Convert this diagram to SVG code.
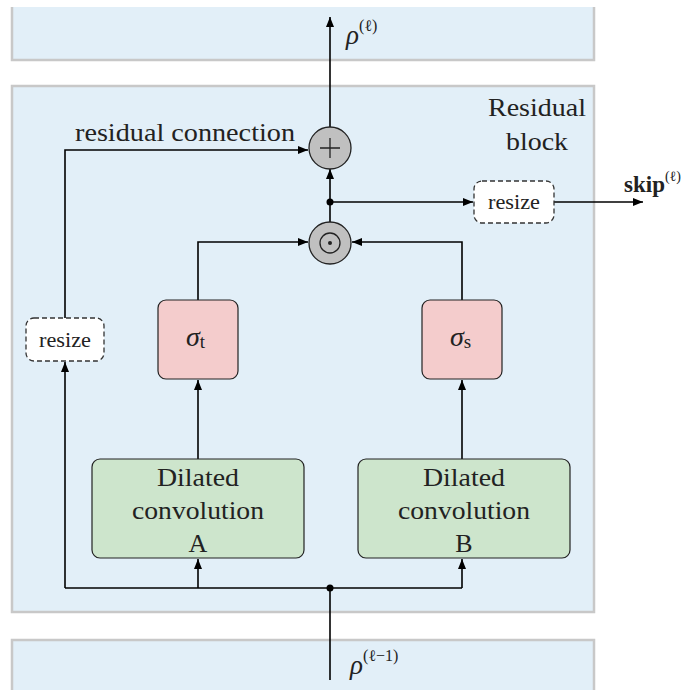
<svg xmlns="http://www.w3.org/2000/svg" width="686" height="690" viewBox="0 0 686 690">
<style>
.bg{fill:#e2eff8;stroke:#c8c8c8;stroke-width:2.5}
.ln{fill:none;stroke:#000;stroke-width:1.6}
.t{fill:#222}
.conv{fill:#cde5cc;stroke:#222;stroke-width:1.2}
.sig{fill:#f4cccc;stroke:#222;stroke-width:1.2}
.rs{fill:#fff;stroke:#333;stroke-width:1.3;stroke-dasharray:5,3}
.op{fill:#c0c0c0;stroke:#222;stroke-width:1.3}
</style>
<defs>
<marker id="ah" viewBox="0 0 10 10" refX="10" refY="5" markerWidth="10" markerHeight="10" markerUnits="userSpaceOnUse" orient="auto">
<path d="M0,1 L10,5 L0,9 Z" fill="#000"/>
</marker>
</defs>
<g font-family="'Liberation Serif', 'DejaVu Serif', serif">
<g id="layers">
<rect x="12" y="7" width="582" height="53" fill="#e2eff8"/>
<path d="M12,7 V60 H594 V7" class="bg" style="fill:none"/>
<rect class="bg" x="12" y="86" width="582" height="526"/>
<rect x="12" y="640" width="582" height="52" fill="#e2eff8"/>
<path d="M12,692 V640 H594 V692" class="bg" style="fill:none"/>
<text class="t" x="537" y="116" font-size="26" text-anchor="middle" textLength="98" lengthAdjust="spacingAndGlyphs">Residual</text>
<text class="t" x="537" y="150" font-size="26" text-anchor="middle" textLength="62" lengthAdjust="spacingAndGlyphs">block</text>
</g>
<g id="connectors">
<path class="ln" d="M330,680 V588"/>
<path class="ln" d="M65,588 H462"/>
<path class="ln" d="M198,588 V559" marker-end="url(#ah)"/>
<path class="ln" d="M462,588 V559" marker-end="url(#ah)"/>
<path class="ln" d="M65,588 V362" marker-end="url(#ah)"/>
<path class="ln" d="M65,318 V150 H308" marker-end="url(#ah)"/>
<path class="ln" d="M198,459 V380" marker-end="url(#ah)"/>
<path class="ln" d="M462,459 V380" marker-end="url(#ah)"/>
<path class="ln" d="M198,300 V242 H308" marker-end="url(#ah)"/>
<path class="ln" d="M462,300 V242 H352" marker-end="url(#ah)"/>
<path class="ln" d="M330,222 V169" marker-end="url(#ah)"/>
<path class="ln" d="M330,202 H473" marker-end="url(#ah)"/>
<path class="ln" d="M554,202 H643" marker-end="url(#ah)"/>
<path class="ln" d="M330,127 V17" marker-end="url(#ah)"/>
<circle cx="330" cy="588" r="3.5" fill="#000"/>
<circle cx="330" cy="202" r="3.5" fill="#000"/>
<text class="t" x="75" y="141" font-size="25" textLength="220" lengthAdjust="spacingAndGlyphs">residual connection</text>
</g>
<g id="plus">
<circle class="op" cx="330" cy="148" r="21"/>
<path d="M320,148 H340 M330,138 V158" stroke="#222" stroke-width="1.3"/>
</g>
<g id="odot">
<circle class="op" cx="330" cy="243" r="21"/>
<circle cx="330" cy="243" r="10" fill="none" stroke="#222" stroke-width="1.3"/>
<circle cx="330" cy="243" r="2" fill="#222"/>
</g>
<g id="resize-skip">
<rect class="rs" x="474" y="181" width="80" height="42" rx="8"/>
<text class="t" x="514" y="209" font-size="21" text-anchor="middle" textLength="52" lengthAdjust="spacingAndGlyphs">resize</text>
</g>
<g id="skip-label">
<text class="t" x="624" y="192" font-size="23" font-weight="bold">skip<tspan font-size="14" font-weight="normal" dy="-11">(ℓ)</tspan></text>
</g>
<g id="resize-res">
<rect class="rs" x="26" y="318" width="78" height="43" rx="8"/>
<text class="t" x="65" y="347" font-size="21" text-anchor="middle" textLength="52" lengthAdjust="spacingAndGlyphs">resize</text>
</g>
<g id="sigma-t">
<rect class="sig" x="158" y="300" width="80" height="79" rx="8"/>
<text class="t" x="186" y="346" font-size="28"><tspan font-style="italic">σ</tspan><tspan font-size="19" dy="2">t</tspan></text>
</g>
<g id="sigma-s">
<rect class="sig" x="422" y="300" width="80" height="79" rx="8"/>
<text class="t" x="450" y="346" font-size="28"><tspan font-style="italic">σ</tspan><tspan font-size="19" dy="2">s</tspan></text>
</g>
<g id="conv-a">
<rect class="conv" x="92" y="459" width="212" height="99" rx="8"/>
<text class="t" x="198" y="486" font-size="26" text-anchor="middle" textLength="82" lengthAdjust="spacingAndGlyphs">Dilated</text>
<text class="t" x="198" y="519" font-size="26" text-anchor="middle" textLength="132" lengthAdjust="spacingAndGlyphs">convolution</text>
<text class="t" x="198" y="552" font-size="26" text-anchor="middle">A</text>
</g>
<g id="conv-b">
<rect class="conv" x="358" y="459" width="212" height="99" rx="8"/>
<text class="t" x="464" y="486" font-size="26" text-anchor="middle" textLength="82" lengthAdjust="spacingAndGlyphs">Dilated</text>
<text class="t" x="464" y="519" font-size="26" text-anchor="middle" textLength="132" lengthAdjust="spacingAndGlyphs">convolution</text>
<text class="t" x="464" y="552" font-size="26" text-anchor="middle">B</text>
</g>
<g id="rho-out">
<text class="t" x="346" y="44" font-size="27" font-style="italic">ρ<tspan font-size="16" font-style="normal" dy="-13">(ℓ)</tspan></text>
</g>
<g id="rho-in">
<text class="t" x="350" y="674" font-size="27" font-style="italic">ρ<tspan font-size="16" font-style="normal" dy="-13">(ℓ−1)</tspan></text>
</g>
</g>
</svg>
